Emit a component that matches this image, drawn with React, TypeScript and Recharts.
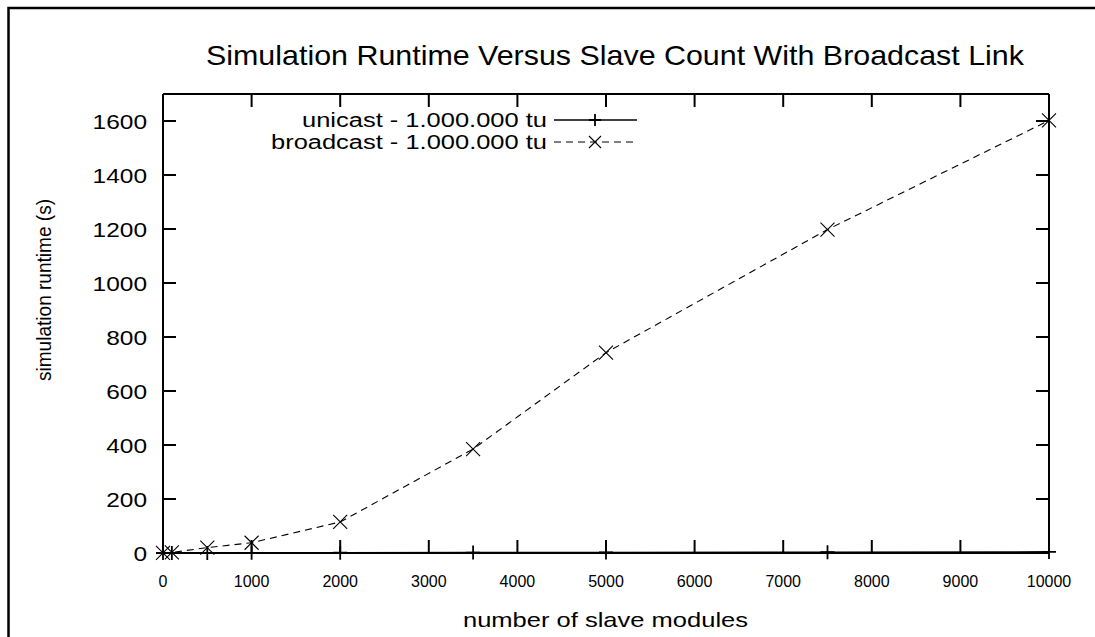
import React from 'react';
import { LineChart, Line, XAxis, YAxis, Legend, Customized } from 'recharts';

const slaveCounts = [0, 100, 500, 1000, 2000, 3500, 5000, 7500, 10000];
const unicastRuntime = [0.05, 0.1, 0.3, 0.5, 1, 1.5, 2, 3, 4];
const broadcastRuntime = [0.5, 2, 20, 38, 115, 385, 742, 1198, 1602];
const xTicks = [0, 1000, 2000, 3000, 4000, 5000, 6000, 7000, 8000, 9000, 10000];
const yTicks = [0, 200, 400, 600, 800, 1000, 1200, 1400, 1600];

const titleText = 'Simulation Runtime Versus Slave Count With Broadcast Link';
const xLabelText = 'number of slave modules';
const yLabelText = 'simulation runtime (s)';
const unicastName = 'unicast - 1.000.000 tu';
const broadcastName = 'broadcast - 1.000.000 tu';

const data = slaveCounts.map((x, i) => ({
  x,
  unicast: unicastRuntime[i],
  broadcast: broadcastRuntime[i],
}));

const FONT = '"Liberation Sans", Arial, Helvetica, sans-serif';
const W = 1095;
const H = 637;

const PlusMark = ({ cx, cy, r = 7 }: any) => (
  <path d={`M${cx - r},${cy}H${cx + r}M${cx},${cy - r}V${cy + r}`} stroke="#000" strokeWidth={1.8} fill="none" />
);
const CrossMark = ({ cx, cy, r = 7 }: any) => (
  <path
    d={`M${cx - r},${cy - r}L${cx + r},${cy + r}M${cx - r},${cy + r}L${cx + r},${cy - r}`}
    stroke="#000"
    strokeWidth={1.1}
    fill="none"
  />
);

const BottomTick = (props: any) => {
  const { x, y, payload } = props;
  return (
    <g>
      <line x1={x} y1={y} x2={x} y2={y - 13} stroke="#000" strokeWidth={2} />
      <text x={x} y={y + 34} textAnchor="middle" fontSize={16} fontFamily={FONT} fill="#000">
        {payload.value}
      </text>
    </g>
  );
};
const TopTick = (props: any) => {
  const { x, y } = props;
  return <line x1={x} y1={y} x2={x} y2={y + 13} stroke="#000" strokeWidth={2} />;
};
const LeftTick = (props: any) => {
  const { x, y, payload } = props;
  const s = String(payload.value);
  return (
    <g>
      <line x1={x} y1={y} x2={x + 13} y2={y} stroke="#000" strokeWidth={2} />
      <text
        x={x - 16}
        y={y + 7.5}
        textAnchor="end"
        fontSize={21}
        fontFamily={FONT}
        fill="#000"
        textLength={13.6 * s.length}
        lengthAdjust="spacingAndGlyphs"
      >
        {s}
      </text>
    </g>
  );
};
const RightTick = (props: any) => {
  const { x, y } = props;
  return <line x1={x} y1={y} x2={x - 13} y2={y} stroke="#000" strokeWidth={2} />;
};

const Decorations = () => (
  <g>
    <rect x={8.5} y={8} width={W + 20} height={H + 20} fill="none" stroke="#000" strokeWidth={2.5} />
    <text
      x={206}
      y={65}
      fontSize={28}
      fontFamily={FONT}
      fill="#000"
      textLength={818}
      lengthAdjust="spacingAndGlyphs"
    >
      {titleText}
    </text>
    <text
      x={463}
      y={627}
      fontSize={21}
      fontFamily={FONT}
      fill="#000"
      textLength={285}
      lengthAdjust="spacingAndGlyphs"
    >
      {xLabelText}
    </text>
    <text
      x={51}
      y={290}
      transform="rotate(-90, 51, 290)"
      textAnchor="middle"
      fontSize={21}
      fontFamily={FONT}
      fill="#000"
      textLength={182}
      lengthAdjust="spacingAndGlyphs"
    >
      {yLabelText}
    </text>
  </g>
);

const legendWidths: Record<string, number> = { unicast: 245, broadcast: 276 };

const LegendContent = (props: any) => {
  const { payload = [] } = props;
  const order = ['unicast', 'broadcast'];
  const items = order
    .map((k) => payload.find((p: any) => p.dataKey === k))
    .filter(Boolean);
  return (
    <svg width={W} height={170} style={{ display: 'block' }}>
      {items.map((p: any, i: number) => {
        const cy = 120 + i * 22;
        const isUni = p.dataKey === 'unicast';
        return (
          <g key={p.dataKey}>
            <text
              x={547}
              y={cy + 7}
              textAnchor="end"
              fontSize={20}
              fontFamily={FONT}
              fill="#000"
              textLength={legendWidths[p.dataKey]}
              lengthAdjust="spacingAndGlyphs"
            >
              {p.value}
            </text>
            <line
              x1={554}
              y1={cy}
              x2={637}
              y2={cy}
              stroke="#000"
              strokeWidth={isUni ? 1.6 : 1.1}
              strokeDasharray={isUni ? undefined : '7 5'}
            />
            {isUni ? <PlusMark cx={595} cy={cy} r={6} /> : <CrossMark cx={595} cy={cy} r={6} />}
          </g>
        );
      })}
    </svg>
  );
};

export default function App() {
  return (
    <div style={{ position: 'fixed', left: 0, top: 0, width: W, height: H, background: '#fff' }}>
      <LineChart width={W} height={H} data={data} margin={{ top: 93, right: 45, bottom: 0, left: 0 }}>
        <XAxis
          xAxisId="bottom"
          dataKey="x"
          type="number"
          domain={[0, 10000]}
          ticks={xTicks}
          orientation="bottom"
          height={84}
          tickSize={0}
          tickMargin={0}
          tickLine={false}
          tick={<BottomTick />}
          axisLine={{ stroke: '#000', strokeWidth: 2 }}
          interval={0}
        />
        <XAxis
          xAxisId="top"
          dataKey="x"
          type="number"
          domain={[0, 10000]}
          ticks={xTicks}
          orientation="top"
          height={1}
          tickSize={0}
          tickMargin={0}
          tickLine={false}
          tick={<TopTick />}
          axisLine={{ stroke: '#000', strokeWidth: 2 }}
          interval={0}
        />
        <YAxis
          yAxisId="left"
          type="number"
          domain={[0, 1700]}
          ticks={yTicks}
          orientation="left"
          width={163}
          tickSize={0}
          tickMargin={0}
          tickLine={false}
          tick={<LeftTick />}
          axisLine={{ stroke: '#000', strokeWidth: 2 }}
          interval={0}
        />
        <YAxis
          yAxisId="right"
          type="number"
          domain={[0, 1700]}
          ticks={yTicks}
          orientation="right"
          width={1}
          tickSize={0}
          tickMargin={0}
          tickLine={false}
          tick={<RightTick />}
          axisLine={{ stroke: '#000', strokeWidth: 2 }}
          interval={0}
        />
        <Legend
          layout="vertical"
          align="center"
          verticalAlign="middle"
          content={<LegendContent />}
          wrapperStyle={{ left: 0, top: 0, width: W, height: 170, pointerEvents: 'none' }}
        />
        <Line
          xAxisId="top"
          yAxisId="right"
          dataKey="unicast"
          name={unicastName}
          type="linear"
          stroke="#000"
          strokeWidth={1.6}
          dot={(p: any) => <PlusMark key={`u${p.index}`} cx={p.cx} cy={p.cy} r={7} />}
          activeDot={false}
          isAnimationActive={false}
        />
        <Line
          xAxisId="bottom"
          yAxisId="left"
          dataKey="broadcast"
          name={broadcastName}
          type="linear"
          stroke="#000"
          strokeWidth={1.1}
          strokeDasharray="7 5"
          dot={(p: any) => <CrossMark key={`b${p.index}`} cx={p.cx} cy={p.cy} r={7} />}
          activeDot={false}
          isAnimationActive={false}
        />
        <Customized component={<Decorations />} />
      </LineChart>
    </div>
  );
}
